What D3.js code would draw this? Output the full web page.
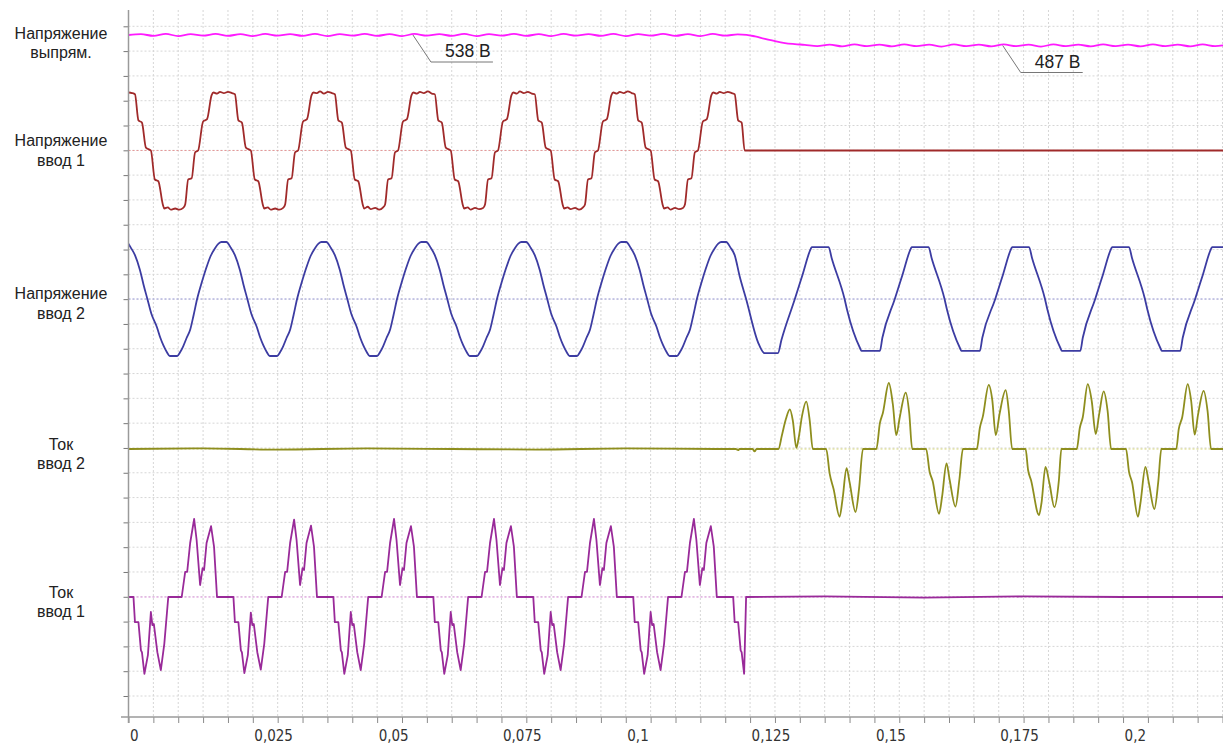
<!DOCTYPE html>
<html>
<head>
<meta charset="utf-8">
<script src="https://cdn.jsdelivr.net/npm/d3@7"></script>
<style>
  body { margin: 0; background: #fff; }
  svg { display: block; }
</style>
</head>
<body>
<svg id="chart" width="1223" height="747"></svg>
<script>
// time axis in milliseconds, labels in seconds
const xTicks = [0, 25, 50, 75, 100, 125, 150, 175, 200];
const xTickLabels = ["0", "0,025", "0,05", "0,075", "0,1", "0,125", "0,15", "0,175", "0,2"];

const traceNames = [
  ["Напряжение", "выпрям."],
  ["Напряжение", "ввод 1"],
  ["Напряжение", "ввод 2"],
  ["Ток", "ввод 2"],
  ["Ток", "ввод 1"]
];

// rectified voltage, V
const rectVoltage = [
  [0,538],[2.5,542],[5,534],[7.5,543],[10,533],[12.5,542],[15,535],[17.5,543],[20,534],[22.5,542],
  [25,533],[27.5,543],[30,535],[32.5,542],[35,534],[37.5,543],[40,533],[42.5,542],[45,535],[47.5,543],
  [50,534],[52.5,542],[55,533],[57.5,543],[60,535],[62.5,542],[65,534],[67.5,543],[70,533],[72.5,542],
  [75,535],[77.5,543],[80,534],[82.5,542],[85,533],[87.5,543],[90,535],[92.5,542],[95,534],[97.5,543],
  [100,533],[102.5,542],[105,535],[107.5,543],[110,534],[112.5,542],[115,533],[117.5,543],[120,535],[122.5,541],
  [124.3,539],[126,531],[128,519],[130,508],[132,499],[134,494],[136,490],[138.5,484],[141,491],[143.5,483],
  [146,492],[148.5,484],[151,491],[153.5,483],[156,492],[158.5,484],[161,491],[163.5,482],[166,492],[168.5,484],
  [171,491],[173.5,483],[176,492],[178.5,484],[181,491],[183.5,482],[186,492],[188.5,484],[191,491],[193.5,483],
  [196,492],[198.5,484],[201,491],[203.5,483],[206,492],[208.5,484],[211,491],[213.5,483],[216,492],[218.5,484],
  [220.1,488]
];

// input 1 voltage, per unit
const input1Voltage = [
  [0,1.0],[0.7,0.99],[1.3,0.97],[2.0,0.52],[2.7,0.48],[3.5,0.05],[4.5,0],[5.3,-0.5],[6.0,-0.53],[6.9,-0.93],
  [7.2,-1.0],[7.9,-0.98],[8.5,-1.02],[9.4,-1.0],[10.2,-1.02],[11.0,-0.99],[11.4,-0.93],[12.0,-0.5],[12.7,-0.48],
  [13.4,-0.03],[14.0,0],[15.0,0.5],[15.8,0.54],[16.7,0.95],[17.1,1.0],[17.8,0.98],[18.4,1.01],[19.2,0.99],[20.0,1.01],
  [20.8,0.99],[21.4,0.97],[22.1,0.52],[22.8,0.48],[23.6,0.05],[24.6,0],[25.4,-0.5],[26.1,-0.53],[27.0,-0.93],[27.3,-1.0],
  [28.0,-0.98],[28.6,-1.02],[29.5,-1.0],[30.3,-1.02],[31.1,-0.99],[31.5,-0.93],[32.1,-0.5],[32.8,-0.48],
  [33.5,-0.03],[34.1,0],[35.1,0.5],[35.9,0.54],[36.8,0.95],[37.2,1.0],[37.9,0.99],[38.5,1.02],[39.3,0.98],[40.1,1.01],
  [40.9,0.99],[41.5,0.97],[42.2,0.52],[42.9,0.48],[43.7,0.05],[44.7,0],[45.5,-0.5],[46.2,-0.53],[47.1,-0.93],[47.4,-1.0],
  [48.1,-0.97],[48.7,-1.01],[49.6,-0.99],[50.4,-1.02],[51.2,-0.98],[51.6,-0.93],[52.2,-0.5],[52.9,-0.48],
  [53.6,-0.03],[54.2,0],[55.2,0.5],[56.0,0.54],[56.9,0.95],[57.3,1.0],[58.0,0.98],[58.6,1.01],[59.4,0.99],[60.2,1.02],
  [61.0,0.98],[61.6,0.97],[62.3,0.52],[63.0,0.48],[63.8,0.05],[64.8,0],[65.6,-0.5],[66.3,-0.53],[67.2,-0.93],[67.5,-1.0],
  [68.2,-0.98],[68.8,-1.02],[69.7,-0.99],[70.5,-1.01],[71.3,-0.99],[71.7,-0.93],[72.3,-0.5],[73.0,-0.48],
  [73.7,-0.03],[74.3,0],[75.3,0.5],[76.1,0.54],[77.0,0.95],[77.4,1.0],[78.1,0.98],[78.7,1.02],[79.5,0.99],[80.3,1.01],
  [81.1,0.98],[81.7,0.97],[82.4,0.52],[83.1,0.48],[83.9,0.05],[84.9,0],[85.7,-0.5],[86.4,-0.53],[87.3,-0.93],[87.6,-1.0],
  [88.3,-0.98],[88.9,-1.01],[89.8,-0.99],[90.6,-1.02],[91.4,-0.98],[91.8,-0.93],[92.4,-0.5],[93.1,-0.48],
  [93.8,-0.03],[94.4,0],[95.4,0.5],[96.2,0.54],[97.1,0.95],[97.5,1.0],[98.2,0.98],[98.8,1.01],[99.6,0.99],[100.4,1.02],
  [101.2,0.99],[101.8,0.97],[102.5,0.52],[103.2,0.48],[104.0,0.05],[105.0,0],[105.8,-0.5],[106.5,-0.53],[107.4,-0.93],[107.7,-1.0],
  [108.4,-0.98],[109.0,-1.02],[109.9,-0.99],[110.7,-1.01],[111.5,-0.99],[111.9,-0.93],[112.5,-0.5],[113.2,-0.48],
  [113.9,-0.03],[114.5,0],[115.5,0.5],[116.3,0.54],[117.2,0.95],[117.6,1.0],[118.3,0.98],[118.9,1.01],[119.7,0.99],[120.5,1.01],
  [121.3,0.99],[121.9,0.97],[122.6,0.52],[123.3,0.48],[123.9,0],[220.1,0]
];

// input 2 voltage, per unit
const input2Voltage = [
  [0,0.97],[0.4,0.91],[1.3,0.77],[2.3,0.51],[3.0,0.26],[3.8,0],[4.6,-0.26],[5.7,-0.49],[6.4,-0.68],[7.0,-0.81],
  [7.7,-0.93],[8.3,-1.0],[9.8,-1.0],[10.4,-0.93],[11.0,-0.83],[11.7,-0.68],[12.4,-0.54],[13.1,-0.28],
  [13.8,0],[14.8,0.31],[15.7,0.56],[16.5,0.75],[17.4,0.89],[18.1,0.97],[18.7,1.0],[19.7,1.0],[20.5,0.91],[21.4,0.77],
  [22.4,0.51],[23.1,0.26],[23.9,0],[24.7,-0.26],[25.8,-0.49],[26.5,-0.68],[27.1,-0.81],[27.8,-0.93],[28.4,-1.0],[29.9,-1.0],
  [30.5,-0.93],[31.1,-0.83],[31.8,-0.68],[32.5,-0.54],[33.2,-0.28],
  [33.9,0],[34.9,0.31],[35.8,0.56],[36.6,0.75],[37.5,0.89],[38.2,0.97],[38.8,1.0],[39.8,1.0],[40.6,0.91],[41.5,0.77],
  [42.5,0.51],[43.2,0.26],[44.0,0],[44.8,-0.26],[45.9,-0.49],[46.6,-0.68],[47.2,-0.81],[47.9,-0.93],[48.5,-1.0],[50.0,-1.0],
  [50.6,-0.93],[51.2,-0.83],[51.9,-0.68],[52.6,-0.54],[53.3,-0.28],
  [54.0,0],[55.0,0.31],[55.9,0.56],[56.7,0.75],[57.6,0.89],[58.3,0.97],[58.9,1.0],[59.9,1.0],[60.7,0.91],[61.6,0.77],
  [62.6,0.51],[63.3,0.26],[64.1,0],[64.9,-0.26],[66.0,-0.49],[66.7,-0.68],[67.3,-0.81],[68.0,-0.93],[68.6,-1.0],[70.1,-1.0],
  [70.7,-0.93],[71.3,-0.83],[72.0,-0.68],[72.7,-0.54],[73.4,-0.28],
  [74.1,0],[75.1,0.31],[76.0,0.56],[76.8,0.75],[77.7,0.89],[78.4,0.97],[79.0,1.0],[80.0,1.0],[80.8,0.91],[81.7,0.77],
  [82.7,0.51],[83.4,0.26],[84.2,0],[85.0,-0.26],[86.1,-0.49],[86.8,-0.68],[87.4,-0.81],[88.1,-0.93],[88.7,-1.0],[90.2,-1.0],
  [90.8,-0.93],[91.4,-0.83],[92.1,-0.68],[92.8,-0.54],[93.5,-0.28],
  [94.2,0],[95.2,0.31],[96.1,0.56],[96.9,0.75],[97.8,0.89],[98.5,0.97],[99.1,1.0],[100.1,1.0],[100.9,0.91],[101.8,0.77],
  [102.8,0.51],[103.5,0.26],[104.3,0],[105.1,-0.26],[106.2,-0.49],[106.9,-0.68],[107.5,-0.81],[108.2,-0.93],[108.8,-1.0],[110.3,-1.0],
  [110.9,-0.93],[111.5,-0.83],[112.2,-0.68],[112.9,-0.54],[113.6,-0.28],
  [114.3,0],[115.3,0.31],[116.2,0.56],[117.0,0.75],[117.9,0.89],[118.6,0.97],[119.2,1.0],[120.2,1.0],[121.0,0.91],[121.9,0.77],
  [122.9,0.40],[124.2,0],[126.6,-0.76],[127.9,-0.95],[130.6,-0.95],[131.3,-0.72],
  [134.0,0],[135.6,0.44],[137.2,0.88],[137.4,0.91],[140.8,0.91],[141.4,0.72],[144.0,0],[144.5,-0.19],[147.1,-0.86],[147.4,-0.91],[151.1,-0.91],[151.6,-0.68],
  [154.1,0],[155.7,0.44],[157.3,0.88],[157.5,0.91],[160.9,0.91],[161.5,0.72],[164.1,0],[164.6,-0.19],[167.2,-0.86],[167.5,-0.91],[171.2,-0.91],[171.7,-0.68],
  [174.3,0],[175.9,0.44],[177.5,0.88],[177.7,0.91],[181.1,0.91],[181.7,0.72],[184.3,0],[184.8,-0.19],[187.4,-0.86],[187.7,-0.91],[191.4,-0.91],[191.9,-0.68],
  [194.4,0],[196.0,0.44],[197.6,0.88],[197.8,0.91],[201.2,0.91],[201.8,0.72],[204.4,0],[204.9,-0.19],[207.5,-0.86],[207.8,-0.91],[211.5,-0.91],[212.0,-0.68],
  [214.5,0],[216.1,0.44],[217.7,0.88],[217.9,0.91],[220.1,0.91]
];

// input 2 current, per unit
const input2Current = [
  [0,0],[15,0.01],[30,-0.01],[48,0.01],[65,0],[82,-0.01],[100,0.01],[118,0],[122.1,0],[122.6,-0.02],[122.9,0],
  [125.5,0],[125.9,-0.04],[126.3,0],[130.7,0],
  [131.4,0.23],[132.2,0.5],[133.0,0.66],[133.6,0.47],[134.3,0.02],[134.8,0.2],[135.4,0.53],[136.3,0.79],[137.0,0.47],[137.6,0],
  [140.3,0],[141.0,-0.41],[141.8,-0.67],[143.0,-1.13],[143.6,-0.83],[144.4,-0.32],[145.0,-0.55],[146.2,-1.05],[146.9,-0.67],[147.7,0],
  [150.4,0],[151.1,0.43],[151.7,0.6],[152.9,1.1],[153.7,0.75],[154.4,0.23],[155.1,0.53],[156.3,0.94],[157.0,0.6],[157.6,0],
  [160.4,0],[161.1,-0.38],[161.7,-0.53],[163.0,-1.08],[163.6,-0.8],[164.5,-0.24],[165.1,-0.5],[166.3,-0.96],[167.1,-0.5],[167.8,0],
  [170.6,0],[171.2,0.35],[171.8,0.54],[173.0,1.07],[173.7,0.82],[174.4,0.23],[175.2,0.6],[176.4,0.98],[177.0,0.65],[177.7,0],
  [180.4,0],[180.9,-0.35],[181.5,-0.52],[183.1,-1.1],[183.6,-0.9],[184.4,-0.3],[185.2,-0.57],[186.2,-0.97],[187.1,-0.52],[187.6,0],
  [190.7,0],[191.3,0.35],[191.9,0.53],[192.9,1.08],[193.7,0.8],[194.5,0.25],[195.2,0.58],[196.1,0.96],[196.9,0.63],[197.6,0],
  [200.6,0],[201.2,-0.38],[201.8,-0.55],[203.0,-1.13],[203.5,-0.9],[204.5,-0.3],[205.2,-0.57],[206.3,-1.0],[207.1,-0.53],[207.7,0],
  [210.7,0],[211.2,0.33],[211.9,0.53],[213.0,1.08],[213.7,0.8],[214.4,0.24],[215.1,0.58],[216.2,0.97],[217.0,0.63],[217.7,0],
  [220.1,0]
];

// input 1 current, per unit
const input1Current = [
  [0,0],[1.0,0],[1.3,-0.42],[2.0,-0.42],[2.5,-0.89],[2.7,-0.92],[3.2,-1.28],[3.9,-0.97],[4.5,-0.25],[4.8,-0.47],
  [5.1,-0.45],[5.8,-0.92],[6.5,-1.22],[7.2,-0.78],[8.0,0],[10.7,0],[11.4,0.42],[11.8,0.42],[12.4,0.9],[13.2,1.3],
  [13.7,0.95],[14.4,0.2],[14.9,0.48],[15.2,0.45],[15.7,0.9],[16.6,1.18],[17.2,0.84],[17.8,0],
  [21.1,0],[21.4,-0.42],[22.1,-0.42],[22.6,-0.89],[22.8,-0.92],[23.3,-1.27],[24.0,-0.97],[24.6,-0.26],[24.9,-0.47],
  [25.2,-0.45],[25.9,-0.92],[26.6,-1.21],[27.3,-0.78],[28.1,0],[30.8,0],[31.5,0.42],[31.9,0.42],[32.5,0.9],[33.3,1.29],
  [33.8,0.95],[34.5,0.2],[35.0,0.48],[35.3,0.45],[35.8,0.9],[36.7,1.19],[37.3,0.84],[37.9,0],
  [41.2,0],[41.5,-0.42],[42.2,-0.42],[42.7,-0.89],[42.9,-0.92],[43.4,-1.28],[44.1,-0.97],[44.7,-0.25],[45.0,-0.47],
  [45.3,-0.45],[46.0,-0.92],[46.7,-1.22],[47.4,-0.78],[48.2,0],[50.9,0],[51.6,0.42],[52.0,0.42],[52.6,0.9],[53.4,1.3],
  [53.9,0.95],[54.6,0.2],[55.1,0.48],[55.4,0.45],[55.9,0.9],[56.8,1.18],[57.4,0.84],[58.0,0],
  [61.3,0],[61.6,-0.42],[62.3,-0.42],[62.8,-0.89],[63.0,-0.92],[63.5,-1.28],[64.2,-0.97],[64.8,-0.25],[65.1,-0.47],
  [65.4,-0.45],[66.1,-0.92],[66.8,-1.22],[67.5,-0.78],[68.3,0],[71.0,0],[71.7,0.42],[72.1,0.42],[72.7,0.9],[73.5,1.3],
  [74.0,0.95],[74.7,0.2],[75.2,0.48],[75.5,0.45],[76.0,0.9],[76.9,1.18],[77.5,0.84],[78.1,0],
  [81.4,0],[81.7,-0.42],[82.4,-0.42],[82.9,-0.89],[83.1,-0.92],[83.6,-1.28],[84.3,-0.97],[84.9,-0.25],[85.2,-0.47],
  [85.5,-0.45],[86.2,-0.92],[86.9,-1.22],[87.6,-0.78],[88.4,0],[91.1,0],[91.8,0.42],[92.2,0.42],[92.8,0.9],[93.6,1.3],
  [94.1,0.95],[94.8,0.2],[95.3,0.48],[95.6,0.45],[96.1,0.9],[97.0,1.18],[97.6,0.84],[98.2,0],
  [101.5,0],[101.8,-0.42],[102.5,-0.42],[103.0,-0.89],[103.2,-0.92],[103.7,-1.28],[104.4,-0.97],[105.0,-0.25],[105.3,-0.47],
  [105.6,-0.45],[106.3,-0.92],[107.0,-1.22],[107.7,-0.78],[108.5,0],[111.2,0],[111.9,0.42],[112.3,0.42],[112.9,0.9],[113.7,1.3],
  [114.2,0.95],[114.9,0.2],[115.4,0.48],[115.7,0.45],[116.2,0.9],[117.1,1.18],[117.7,0.84],[118.3,0],
  [121.6,0],[121.9,-0.42],[122.6,-0.42],[123.1,-0.89],[123.3,-0.92],[123.8,-1.28],[124.2,0],
  [140,0.01],[160,-0.01],[180,0.01],[200,0],[220.1,0]
];

// value call-outs on the rectified voltage
const callouts = [
  { t: 57.2, v: 538, label: "538 В" },
  { t: 175.8, v: 487, label: "487 В" }
];

const svg = d3.select("#chart");
const plotLeft = 128.5, plotRight = 1223, plotTop = 10, axisY = 717;

const x = d3.scaleLinear().domain([0, 220.1]).range([plotLeft, plotRight]);
const gridRow = d3.scaleLinear().domain([0, 27]).range([26.3, 696]);

// one row per trace: its own vertical scale and label position
const rows = [
  { names: traceNames[0], data: rectVoltage, color: "#ff1aff", zeroColor: null,
    y: d3.scaleLinear().domain([487, 538]).range([45.5, 35]), labelY: 38.5, curve: d3.curveMonotoneX },
  { names: traceNames[1], data: input1Voltage, color: "#a02a2a", zeroColor: "#e59a9a", zero: 150.5,
    y: d3.scaleLinear().domain([-1, 1]).range([150.5 + 58, 150.5 - 58]), labelY: 146, curve: d3.curveMonotoneX },
  { names: traceNames[2], data: input2Voltage, color: "#3c3ca2", zeroColor: "#a0a0de", zero: 299,
    y: d3.scaleLinear().domain([-1, 1]).range([299 + 57, 299 - 57]), labelY: 299, curve: d3.curveMonotoneX },
  { names: traceNames[3], data: input2Current, color: "#8e8e1e", zeroColor: "#d6d67a", zero: 449,
    y: d3.scaleLinear().domain([-1, 1]).range([449 + 60, 449 - 60]), labelY: 449.5, curve: d3.curveMonotoneX },
  { names: traceNames[4], data: input1Current, color: "#992a99", zeroColor: "#e294e2", zero: 597,
    y: d3.scaleLinear().domain([-1, 1]).range([597 + 60, 597 - 60]), labelY: 597.5, curve: d3.curveLinear }
];

svg.append("defs").append("clipPath").attr("id", "plotClip")
  .append("rect").attr("x", plotLeft).attr("y", 0)
  .attr("width", plotRight - plotLeft).attr("height", axisY);

// grid
const grid = svg.append("g").attr("stroke", "#d6d6d6").attr("stroke-dasharray", "2,2");
grid.selectAll("line.v")
  .data(d3.range(5, 221, 5))
  .join("line")
  .attr("class", "v")
  .attr("x1", d => x(d)).attr("x2", d => x(d))
  .attr("y1", plotTop).attr("y2", axisY);
grid.selectAll("line.h")
  .data(d3.range(28))
  .join("line")
  .attr("class", "h")
  .attr("x1", plotLeft).attr("x2", plotRight)
  .attr("y1", d => gridRow(d)).attr("y2", d => gridRow(d));

// zero lines of each trace
svg.append("g").selectAll("line")
  .data(rows.filter(r => r.zeroColor))
  .join("line")
  .attr("x1", plotLeft).attr("x2", plotRight)
  .attr("y1", d => d.y(0)).attr("y2", d => d.y(0))
  .attr("stroke", d => d.zeroColor)
  .attr("stroke-width", 1.2)
  .attr("stroke-dasharray", "2,2");

// traces
const traceG = svg.append("g").attr("clip-path", "url(#plotClip)");
rows.forEach(r => {
  const line = d3.line()
    .x(d => x(d[0]))
    .y(d => r.y(d[1]))
    .curve(r.curve);
  traceG.append("path")
    .datum(r.data)
    .attr("fill", "none")
    .attr("stroke", r.color)
    .attr("stroke-width", 1.8)
    .attr("stroke-linejoin", "round")
    .attr("d", line);
});

// x axis
const xAxis = d3.axisBottom(x)
  .tickValues(d3.range(0, 221, 5))
  .tickSize(6)
  .tickSizeOuter(0)
  .tickFormat(d => {
    const i = xTicks.indexOf(d);
    return i >= 0 ? xTickLabels[i] : "";
  });
const xg = svg.append("g").attr("transform", `translate(0,${axisY})`).call(xAxis);
xg.select(".domain").remove();
xg.selectAll(".tick line").attr("stroke", "#8a8a8a");
xg.selectAll(".tick text")
  .attr("text-anchor", "start")
  .attr("x", 1)
  .attr("y", 13)
  .attr("fill", "#333")
  .style("font-family", "'DejaVu Sans Condensed', 'DejaVu Sans', sans-serif")
  .style("font-stretch", "condensed")
  .style("font-size", "15px");
svg.append("line")
  .attr("x1", 121).attr("x2", plotRight)
  .attr("y1", axisY).attr("y2", axisY)
  .attr("stroke", "#9a9a9a").attr("stroke-width", 1.5);

// y axis
const yAxis = d3.axisLeft(gridRow).tickValues(d3.range(28)).tickSize(5).tickSizeOuter(0).tickFormat("");
const yg = svg.append("g").attr("transform", `translate(${plotLeft},0)`).call(yAxis);
yg.select(".domain").remove();
yg.selectAll(".tick line").attr("stroke", "#777");
svg.append("line")
  .attr("x1", plotLeft).attr("x2", plotLeft)
  .attr("y1", plotTop).attr("y2", 723)
  .attr("stroke", "#9a9a9a").attr("stroke-width", 1.5);

// trace names
const labels = svg.append("g")
  .attr("text-anchor", "middle")
  .attr("fill", "#222")
  .style("font-family", "'Liberation Sans', Arial, sans-serif")
  .style("font-size", "16px");
rows.forEach(r => {
  const t = labels.append("text").attr("x", 61).attr("y", r.labelY);
  t.append("tspan").attr("x", 61).text(r.names[0]);
  t.append("tspan").attr("x", 61).attr("dy", 19.5).text(r.names[1]);
});

// call-outs
const rectRow = rows[0];
const co = svg.append("g").selectAll("g")
  .data(callouts)
  .join("g")
  .attr("transform", d => `translate(${x(d.t)},${rectRow.y(d.v)})`);
co.append("polyline")
  .attr("points", "0,0 18,27 80,27")
  .attr("fill", "none")
  .attr("stroke", "#777")
  .attr("stroke-width", 1);
co.append("text")
  .attr("x", 32).attr("y", 22)
  .attr("fill", "#222")
  .style("font-family", "'Liberation Sans', Arial, sans-serif")
  .style("font-size", "17.5px")
  .text(d => d.label);
</script>
</body>
</html>
